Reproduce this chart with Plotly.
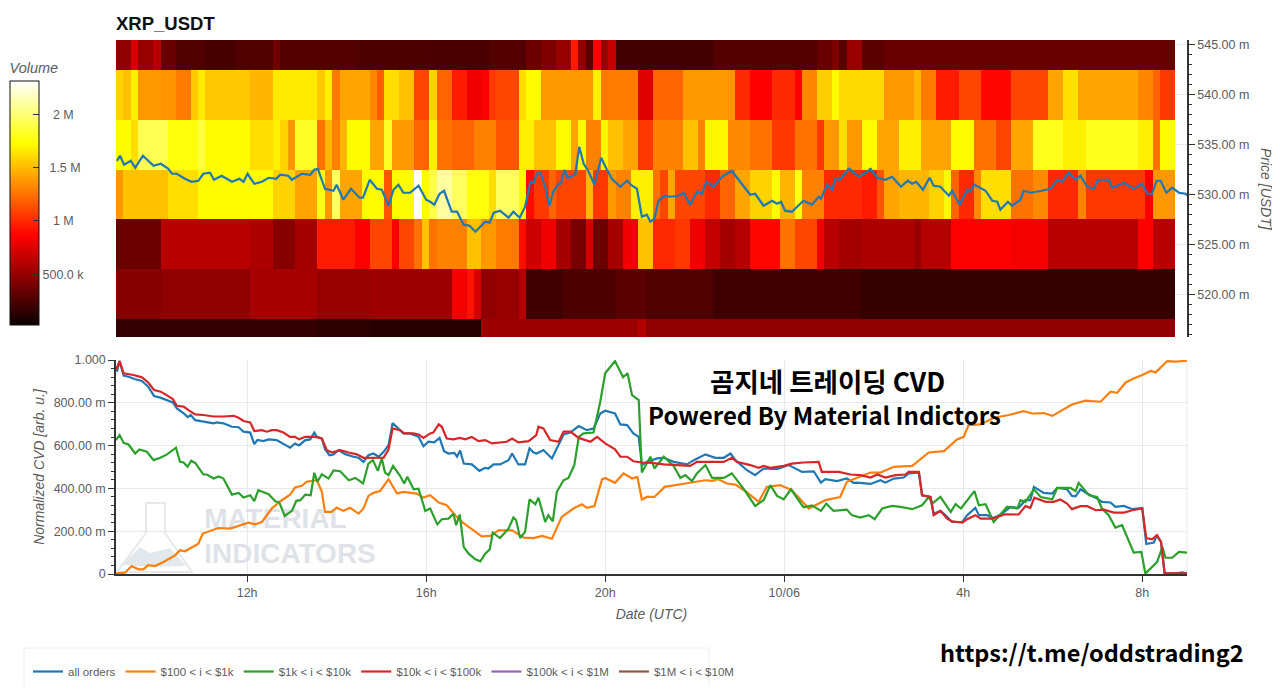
import pandas as pd
import plotly.graph_objects as go

# the page body adds an 8 px margin on each side, so the figure is shrunk and coordinates are shifted
W, H = 1272, 678
BODY = 8
BASE = pd.Timestamp("2020-10-05")

def when(hours):
    return [BASE + pd.to_timedelta(h, "h") for h in hours]

def px(x):
    return (x - BODY) / W

def py(y):
    return 1 - (y - BODY) / H

# ---- data -----------------------------------------------------------------
PAIR = "XRP_USDT"
PRICE_LEVELS = [515, 520, 525, 530, 535, 540, 545]
CELL_HOURS = 1 / 6
HEAT_START = 9.07
N_CELLS = 142

# runs of (last cell index, volume in millions)
ROW_545 = [(2,.48),(3,.72),(5,.5),(6,.62),(8,.34),(12,.26),(16,.23),(21,.26),(22,.38),(32,.27),(42,.25),(50,.24),(55,.27),(57,.35),(59,.42),(61,.5),(62,.95),(63,.48),(64,.3),(65,.85),(66,.5),(67,.65),(80,.22),(94,.28),(96,.34),(97,.42),(98,.3),(100,.5),(103,.3),(142,.34)]
ROW_540 = [(1,1.58),(2,1.52),(3,1.68),(6,1.38),(8,1.36),(10,1.28),(11,1.55),(12,1.66),(18,1.54),(21,1.48),(27,1.66),(28,1.55),(29,1.68),(30,1.28),(34,1.42),(35,1.32),(36,1.18),(38,1.62),(40,1.52),(42,1.1),(43,1.58),(45,1.2),(47,.95),(49,.8),(50,.85),(51,1.05),(54,1.1),(55,1.62),(57,1.72),(64,1.38),(65,1.68),(70,1.28),(72,.75),(76,1.2),(83,1.38),(85,1.0),(88,.86),(91,1.0),(92,.86),(94,1.32),(96,1.56),(97,1.72),(103,1.6),(107,1.38),(108,1.48),(110,1.28),(113,.95),(116,1.1),(120,.88),(125,1.1),(127,1.42),(129,1.62),(137,1.42),(139,1.32),(140,1.2),(142,1.05)]
ROW_535 = [(2,1.72),(3,1.62),(7,1.92),(11,1.76),(12,1.88),(18,1.72),(21,1.62),(22,1.68),(23,1.58),(24,1.38),(27,1.82),(28,1.25),(29,1.48),(30,1.3),(31,1.48),(34,1.72),(36,1.42),(37,1.82),(40,1.38),(42,1.2),(43,1.68),(45,1.25),(48,1.2),(51,1.3),(54,1.15),(56,1.68),(59,1.52),(61,1.72),(62,1.42),(63,1.72),(65,1.3),(66,1.7),(68,1.52),(70,1.42),(72,1.05),(76,1.3),(78,1.52),(79,1.3),(82,1.7),(85,1.33),(88,1.25),(91,1.05),(94,1.25),(95,1.05),(97,1.38),(98,1.62),(100,1.38),(102,1.72),(105,1.42),(108,1.68),(112,1.42),(115,1.72),(118,1.25),(120,1.1),(123,1.42),(127,1.8),(130,1.68),(137,1.8),(139,1.68),(140,1.25),(142,1.72)]
ROW_530 = [(1,1.38),(7,1.52),(11,1.62),(21,1.72),(24,1.58),(27,1.42),(28,1.78),(29,1.38),(30,1.95),(33,1.42),(36,1.72),(37,1.15),(40,1.72),(41,2.3),(42,1.72),(43,1.9),(45,2.1),(47,1.95),(50,1.76),(51,1.62),(54,1.95),(55,1.72),(56,.9),(58,1.05),(59,1.2),(63,1.1),(64,1.48),(66,1.05),(67,1.38),(69,1.3),(72,1.68),(73,1.25),(74,1.1),(75,1.42),(79,1.1),(81,1.0),(83,1.2),(85,1.42),(88,1.58),(89,1.72),(91,1.48),(92,1.78),(95,1.3),(100,1.0),(102,.95),(103,1.15),(105,1.42),(109,1.48),(111,1.58),(112,1.72),(113,1.2),(115,1.0),(116,1.33),(120,1.62),(123,1.25),(125,1.33),(129,1.0),(130,1.3),(138,1.05),(139,.85),(142,1.38)]
ROW_525 = [(6,.35),(11,.62),(18,.62),(21,.58),(24,.45),(27,.55),(32,.95),(34,.85),(37,1.1),(38,.85),(40,1.1),(41,1.25),(42,1.52),(43,1.25),(47,1.3),(49,1.52),(51,1.38),(54,1.28),(55,.9),(57,.68),(59,.8),(61,.55),(63,.4),(64,.72),(66,.35),(68,.55),(70,.8),(72,1.52),(75,1.0),(77,1.05),(79,.8),(81,.65),(83,.55),(85,.6),(89,.88),(91,1.25),(94,1.1),(95,.8),(97,.62),(100,.55),(107,.58),(108,.5),(112,.6),(120,.85),(125,.82),(137,.62),(139,.85),(142,.62)]
ROW_520 = [(6,.45),(18,.48),(27,.56),(34,.5),(42,.52),(45,.52),(47,.82),(48,.92),(49,.72),(51,.48),(54,.5),(55,.6),(60,.2),(67,.25),(71,.3),(80,.26),(100,.2),(142,.17)]
ROW_515 = [(27,.16),(34,.14),(49,.12),(70,.52),(71,.6),(142,.48)]

HOURS_ALL = [9.09,9.15,9.24,9.35,9.50,9.65,9.79,9.92,10.06,10.20,10.34,10.43,10.50,10.59,10.67,10.74,10.84,11.02,11.25,11.32,11.47,11.66,11.81,11.92,12.07,12.16,12.23,12.36,12.48,12.66,12.81,12.96,13.07,13.16,13.30,13.41,13.50,13.56,13.67,13.74,13.84,13.93,14.04,14.19,14.38,14.49,14.60,14.71,14.82,14.94,15.05,15.16,15.25,15.38,15.49,15.64,15.83,15.94,16.05,16.18,16.30,16.40,16.50,16.63,16.69,16.76,16.84,17.02,17.19,17.32,17.39,17.51,17.65,17.84,17.92,18.06,18.21,18.31,18.40,18.47,18.62,18.81,18.96,19.07,19.22,19.41,19.59,19.74,19.89,20.00,20.22,20.34,20.49,20.63,20.75,20.82,20.93,21.16,21.31,21.53,21.83,21.98,22.24,22.46,22.65,22.80,22.91,23.17,23.35,23.54,23.84,24.10,24.40,24.66,24.82,24.92,25.18,25.40,25.55,25.63,25.93,26.15,26.26,26.45,26.67,26.78,27.01,27.08,27.27,27.34,27.49,27.60,27.75,27.98,28.09,28.27,28.35,28.53,28.68,28.87,29.06,29.24,29.39,29.50,29.58,29.80,29.99,30.10,30.32,30.43,30.51,30.62,30.77,30.99,31.10,31.29,31.40,31.59,31.78,32.00,32.09,32.26,32.32,32.42,32.50,32.78,32.89,33.00]
CVD_ALL = [.945,.995,.927,.922,.910,.902,.875,.832,.824,.813,.802,.774,.763,.750,.733,.743,.719,.711,.704,.708,.704,.688,.686,.665,.661,.607,.626,.621,.629,.626,.607,.590,.610,.601,.626,.629,.661,.641,.633,.583,.555,.559,.579,.560,.548,.543,.524,.555,.563,.548,.571,.602,.705,.680,.657,.657,.641,.597,.618,.615,.636,.574,.563,.566,.548,.577,.516,.512,.482,.496,.493,.512,.512,.532,.563,.512,.512,.587,.568,.563,.579,.540,.602,.652,.661,.691,.672,.680,.750,.763,.750,.699,.696,.657,.641,.509,.524,.540,.543,.524,.512,.532,.559,.543,.543,.563,.532,.485,.462,.493,.490,.509,.477,.480,.427,.443,.434,.446,.426,.427,.421,.438,.427,.446,.451,.470,.474,.368,.360,.282,.295,.275,.243,.243,.275,.309,.275,.275,.262,.282,.314,.309,.345,.345,.407,.379,.376,.402,.396,.365,.363,.396,.376,.353,.337,.334,.314,.318,.303,.309,.140,.147,.181,.150,.003,.003,.008,.003]

HOURS_100 = [9.07,9.27,9.42,9.57,9.68,9.79,9.94,10.13,10.39,10.50,10.61,10.91,11.01,11.21,11.36,11.62,11.84,12.03,12.18,12.33,12.55,12.74,12.96,13.07,13.22,13.33,13.56,13.67,13.74,13.89,14.00,14.15,14.30,14.49,14.60,14.71,14.82,14.97,15.16,15.35,15.49,15.79,15.94,16.09,16.28,16.46,16.65,16.80,16.98,17.24,17.43,17.62,17.92,18.18,18.40,18.59,18.81,19.03,19.29,19.48,19.59,19.76,19.93,20.00,20.22,20.41,20.60,20.72,20.82,20.93,21.10,21.33,21.79,22.24,22.39,22.53,22.72,22.91,23.13,23.43,23.61,23.91,24.17,24.55,24.92,25.25,25.40,25.48,25.70,25.93,26.15,26.45,26.86,27.23,27.57,27.86,28.01,28.12,28.39,28.68,29.02,29.35,29.54,29.80,29.99,30.17,30.43,30.73,31.07,31.29,31.44,31.63,31.81,32.00,32.19,32.30,32.56,32.75,33.00]
CVD_100 = [.003,.006,.037,.022,.022,.041,.037,.056,.087,.111,.106,.142,.189,.204,.215,.212,.228,.240,.232,.243,.306,.340,.371,.404,.412,.431,.438,.384,.290,.290,.310,.295,.309,.282,.306,.365,.379,.388,.443,.376,.384,.376,.357,.368,.334,.321,.275,.243,.215,.176,.178,.204,.204,.170,.168,.178,.165,.267,.306,.326,.309,.317,.443,.449,.426,.470,.446,.454,.348,.360,.360,.407,.423,.438,.435,.443,.423,.418,.388,.337,.407,.415,.392,.306,.345,.360,.431,.438,.457,.474,.474,.501,.505,.568,.574,.629,.641,.696,.699,.730,.743,.761,.750,.752,.739,.761,.792,.810,.805,.852,.847,.895,.914,.930,.949,.942,.995,.992,.997]

HOURS_1K = [9.07,9.15,9.24,9.35,9.50,9.59,9.76,9.91,10.06,10.21,10.41,10.50,10.58,10.67,10.75,10.84,11.02,11.10,11.25,11.36,11.47,11.66,11.81,11.92,12.07,12.16,12.25,12.48,12.63,12.72,12.84,13.00,13.10,13.19,13.30,13.42,13.50,13.57,13.67,13.82,13.93,14.08,14.27,14.42,14.59,14.71,14.81,14.92,15.01,15.08,15.16,15.26,15.42,15.51,15.58,15.72,15.83,15.98,16.09,16.25,16.35,16.50,16.61,16.67,16.75,16.84,16.95,17.10,17.21,17.32,17.42,17.49,17.65,17.84,17.95,18.01,18.10,18.21,18.31,18.44,18.51,18.66,18.73,18.83,18.92,19.07,19.18,19.31,19.41,19.52,19.74,19.89,20.00,20.22,20.40,20.50,20.60,20.75,20.82,21.01,21.10,21.31,21.53,21.68,21.79,21.94,22.05,22.24,22.39,22.65,22.83,23.09,23.35,23.54,23.69,23.84,23.99,24.15,24.43,24.62,24.82,24.94,25.10,25.40,25.51,25.70,25.89,26.02,26.19,26.41,26.60,26.86,27.08,27.23,27.31,27.49,27.72,27.83,27.95,28.25,28.35,28.50,28.68,28.87,28.98,29.21,29.28,29.39,29.58,29.73,29.99,30.10,30.40,30.51,30.58,30.81,30.99,31.10,31.25,31.40,31.55,31.81,31.98,32.07,32.33,32.45,32.52,32.67,32.82,33.00]
CVD_1K = [.626,.649,.613,.605,.563,.582,.571,.532,.543,.559,.590,.524,.521,.501,.529,.519,.465,.465,.446,.456,.446,.371,.379,.357,.368,.340,.392,.373,.340,.334,.271,.295,.342,.345,.371,.368,.473,.431,.466,.446,.484,.480,.438,.449,.423,.516,.532,.482,.540,.474,.462,.505,.458,.423,.454,.396,.399,.295,.306,.232,.256,.259,.282,.228,.278,.126,.095,.069,.059,.095,.115,.193,.168,.212,.264,.251,.168,.197,.349,.326,.356,.243,.275,.246,.384,.438,.449,.509,.641,.657,.661,.805,.938,.995,.919,.938,.836,.813,.474,.548,.493,.548,.505,.449,.462,.434,.470,.509,.449,.449,.470,.399,.318,.345,.415,.365,.349,.396,.312,.321,.295,.329,.295,.301,.275,.264,.275,.256,.306,.318,.314,.303,.321,.360,.329,.360,.290,.326,.306,.387,.321,.326,.243,.290,.314,.306,.345,.337,.396,.360,.349,.402,.402,.387,.426,.368,.360,.306,.275,.217,.228,.100,.103,.002,.056,.126,.076,.076,.103,.100]

HOURS_10K = [9.07,9.15,9.24,9.46,9.65,9.79,9.92,10.07,10.20,10.34,10.43,10.58,10.69,10.84,11.02,11.25,11.47,11.70,11.81,11.92,12.07,12.16,12.33,12.44,12.55,12.66,12.81,12.96,13.07,13.16,13.30,13.52,13.67,13.78,13.89,14.08,14.27,14.45,14.60,14.75,15.05,15.16,15.25,15.42,15.51,15.72,15.83,15.94,16.09,16.16,16.28,16.35,16.46,16.61,16.75,16.87,17.02,17.17,17.32,17.47,17.65,17.80,17.92,18.06,18.29,18.46,18.51,18.62,18.77,18.96,19.07,19.22,19.41,19.67,19.82,20.00,20.22,20.34,20.49,20.63,20.82,21.04,21.31,21.90,22.05,22.65,22.83,22.94,23.24,23.43,23.54,23.69,23.99,24.17,24.43,24.77,24.84,25.22,25.48,25.70,25.93,26.08,26.26,26.49,26.71,26.78,27.01,27.08,27.27,27.34,27.49,27.64,27.75,27.98,28.09,28.27,28.39,28.65,28.94,29.24,29.39,29.50,29.59,29.84,30.02,30.17,30.32,30.43,30.62,30.77,30.96,31.14,31.37,31.59,31.78,32.00,32.09,32.22,32.33,32.42,32.50,33.00]
CVD_10K = [.953,.995,.938,.930,.919,.895,.860,.852,.836,.817,.786,.782,.766,.746,.743,.736,.736,.739,.730,.715,.708,.668,.672,.665,.672,.672,.661,.641,.641,.629,.641,.641,.633,.579,.568,.579,.568,.559,.543,.544,.544,.583,.680,.672,.657,.657,.652,.636,.657,.661,.699,.688,.633,.629,.636,.629,.640,.621,.626,.610,.613,.618,.633,.615,.621,.649,.688,.680,.626,.618,.665,.665,.636,.618,.641,.610,.583,.548,.548,.527,.521,.519,.512,.505,.524,.524,.543,.524,.509,.496,.505,.496,.505,.516,.521,.524,.477,.477,.465,.462,.451,.465,.451,.462,.465,.477,.477,.368,.360,.275,.295,.259,.246,.240,.256,.275,.259,.259,.279,.278,.317,.309,.357,.337,.337,.348,.329,.303,.317,.317,.298,.301,.287,.287,.298,.306,.168,.162,.181,.150,.003,.003]

CVD_100K = [None, None]
CVD_1M = [None, None]
HOURS_EMPTY = [9.07, 33.0]

HOURS_PRICE = [9.09,9.16,9.25,9.40,9.50,9.67,9.91,10.07,10.24,10.32,10.43,10.61,10.76,10.91,11.02,11.17,11.26,11.43,11.66,11.83,11.92,12.01,12.16,12.33,12.48,12.65,12.74,12.92,13.00,13.22,13.41,13.50,13.58,13.74,13.93,14.00,14.15,14.32,14.51,14.59,14.74,14.90,15.01,15.16,15.27,15.38,15.49,15.64,15.83,16.00,16.09,16.18,16.30,16.40,16.57,16.69,16.84,16.97,17.10,17.32,17.42,17.51,17.65,17.84,17.95,18.09,18.21,18.33,18.40,18.47,18.55,18.66,18.75,18.85,18.96,19.01,19.09,19.16,19.33,19.42,19.52,19.63,19.76,19.91,20.04,20.15,20.34,20.49,20.60,20.71,20.82,20.93,21.01,21.10,21.19,21.33,21.45,21.64,21.75,21.90,22.05,22.16,22.26,22.42,22.61,22.83,22.98,23.24,23.35,23.54,23.73,23.84,23.93,24.02,24.17,24.43,24.62,24.77,24.82,24.96,25.07,25.14,25.24,25.44,25.48,25.67,25.78,25.93,26.08,26.26,26.41,26.61,26.76,26.86,26.95,27.10,27.25,27.34,27.49,27.68,27.75,27.92,28.09,28.15,28.25,28.50,28.65,28.76,28.83,29.00,29.09,29.28,29.35,29.50,29.76,29.95,30.10,30.21,30.36,30.51,30.62,30.77,30.92,31.01,31.25,31.33,31.59,31.81,32.00,32.11,32.22,32.32,32.41,32.54,32.67,32.82,32.97,33.00]
PRICE = [533.4,533.9,533.0,533.4,532.7,533.9,532.9,533.1,532.6,532.1,532.1,531.6,531.3,531.4,532.1,532.2,531.5,531.9,531.3,531.6,531.3,532.1,531.1,531.3,531.7,531.6,532.0,531.9,531.5,532.1,532.0,532.5,532.6,530.6,530.4,531.0,529.5,530.6,529.7,529.7,531.5,530.6,530.5,528.9,530.5,531.0,530.2,530.2,530.9,529.5,529.3,529.0,530.1,530.4,528.3,528.3,527.0,526.9,526.3,527.3,527.2,528.2,528.4,527.7,528.3,527.7,528.8,531.3,531.2,532.1,532.2,530.8,528.9,530.4,531.1,531.1,532.5,531.7,532.0,534.8,533.1,532.3,531.0,533.7,532.5,531.6,530.8,531.4,530.9,530.6,527.8,528.0,527.3,527.6,529.4,529.9,529.8,529.9,530.2,529.0,530.3,530.1,531.3,530.8,531.8,532.4,531.5,530.0,530.1,528.9,529.4,529.1,529.3,528.4,528.3,529.4,529.0,529.8,529.6,531.0,530.5,531.6,531.5,532.6,532.5,531.8,532.1,532.6,531.7,531.5,531.8,530.8,531.4,531.1,531.3,530.5,531.7,530.9,530.8,529.9,530.4,529.0,530.5,530.3,531.0,530.4,529.4,529.3,528.5,529.3,528.9,529.5,530.4,530.2,530.4,530.6,531.5,531.3,532.2,531.5,531.9,530.8,530.6,531.5,531.5,530.7,531.2,530.6,531.1,530.1,530.1,531.4,531.4,530.2,530.7,530.2,530.1,529.9]

TIME_TICKS_H = [12, 16, 20, 24, 28, 32]
TIME_LABELS = ["12h", "16h", "20h", "10/06", "4h", "8h"]
CVD_TICKS = [0, .2, .4, .6, .8, 1]
CVD_LABELS = ["0", "200.00 m", "400.00 m", "600.00 m", "800.00 m", "1.000"]
VOLUME_TICKS = [500e3, 1e6, 1.5e6, 2e6]
VOLUME_LABELS = ["500.0 k", "\u00a0\u00a0\u00a01 M", "\u00a0\u00a01.5 M", "\u00a0\u00a0\u00a02 M"]
WATERMARK = ["MATERIAL", "INDICATORS"]
WATERMARK_H = [11.04, 11.04]
WATERMARK_V = [.247, .083]

# ---- styling --------------------------------------------------------------
FONT = "Liberation Sans"
GREY = "#5c5c5c"
AXIS = "#333333"
GRID = "#e9e9e9"
TICK_FONT = dict(family=FONT, size=12.5, color=GREY)
TITLE_FONT = dict(family=FONT, size=14, color=GREY, style="italic")
HOT = [[0, "#0a0000"], [.365, "#ff0000"], [.746, "#ffff00"], [1, "#ffffff"]]
KR = "Noto Sans CJK KR"

def expand(runs):
    cells, pos = [], 0
    for end, value in runs:
        cells += [value * 1e6] * (end - pos)
        pos = max(pos, end)
    return cells

z_rows = [expand(r) for r in (ROW_515, ROW_520, ROW_525, ROW_530, ROW_535, ROW_540, ROW_545)]
heat_hours = [HEAT_START + (i + .5) * CELL_HOURS for i in range(N_CELLS)]

fig = go.Figure()
fig.add_trace(go.Heatmap(
    x=when(heat_hours), y=PRICE_LEVELS, z=z_rows, xaxis="x", yaxis="y",
    colorscale=HOT, zmin=23e3, zmax=2.313e6, showlegend=False, hoverongaps=False,
    colorbar=dict(
        x=px(10), xanchor="left", xref="paper", y=py(325), yanchor="bottom", yref="paper",
        lenmode="pixels", len=265, thicknessmode="pixels", thickness=29,
        xpad=0, ypad=0, outlinecolor="#111111", outlinewidth=1, borderwidth=0,
        ticks="inside", ticklen=6, tickcolor="#333333", tickmode="array",
        tickvals=VOLUME_TICKS, ticktext=VOLUME_LABELS, tickfont=TICK_FONT,
        title=dict(text="Volume", side="top", font=dict(family=FONT, size=14.5, color=GREY, style="italic")),
    ),
))
fig.add_trace(go.Scatter(
    x=when(HOURS_PRICE), y=PRICE, xaxis="x", yaxis="y", mode="lines",
    line=dict(color="#1f77b4", width=2.2), showlegend=False,
))
fig.add_trace(go.Scatter(
    x=when(WATERMARK_H), y=WATERMARK_V, text=WATERMARK, mode="text", xaxis="x2", yaxis="y2",
    textposition="middle right", showlegend=False, hoverinfo="skip",
    textfont=dict(family=FONT, size=28, color="#dfe3e7", weight="bold"),
))
SERIES = [
    ("all orders", HOURS_ALL, CVD_ALL, "#1f77b4"),
    ("$100 < i < $1k", HOURS_100, CVD_100, "#ff7f0e"),
    ("$1k < i < $10k", HOURS_1K, CVD_1K, "#2ca02c"),
    ("$10k < i < $100k", HOURS_10K, CVD_10K, "#d62728"),
    ("$100k < i < $1M", HOURS_EMPTY, CVD_100K, "#9467bd"),
    ("$1M < i < $10M", HOURS_EMPTY, CVD_1M, "#8c564b"),
]
for name, hours, vals, color in SERIES:
    fig.add_trace(go.Scatter(
        x=when(hours), y=vals, name=name, mode="lines", xaxis="x2", yaxis="y2",
        line=dict(color=color, width=2.2), connectgaps=False,
    ))

x_range = [when([9.07])[0], when([33.0])[0]]
flask = "M{} L{} L{} L{} L{} L{} Z".format(*[f"{px(a)},{py(b)}" for a, b in
        [(146, 503), (165, 503), (165, 533), (192, 572), (117, 572), (146, 533)]])
peak = "M{} L{} L{} L{} L{} L{} Z".format(*[f"{px(a)},{py(b)}" for a, b in
        [(122, 565), (140, 547), (150, 553), (170, 548), (186, 566), (152, 567)]])

fig.update_layout(
    width=W, height=H, autosize=False, paper_bgcolor="white", plot_bgcolor="white",
    margin=dict(l=0, r=0, t=0, b=0, autoexpand=False),
    font=dict(family=FONT, size=12, color=GREY),
    title=dict(text=f"<b>{PAIR}</b>", x=px(116), xref="paper", xanchor="left",
               y=py(24), yref="paper", yanchor="middle",
               font=dict(family=FONT, size=18.5, color="#111111")),
    xaxis=dict(domain=[px(116), px(1187)], range=x_range, type="date", anchor="y",
               showticklabels=False, ticks="", showgrid=False, showline=False, zeroline=False),
    yaxis=dict(domain=[py(337), py(40)], range=[515.75, 545.5], anchor="x", side="right",
               tickmode="linear", tick0=515, dtick=5, tickformat=".2f", ticksuffix=" m",
               ticks="outside", ticklen=6, tickcolor=AXIS, tickfont=TICK_FONT,
               showline=True, linecolor=AXIS, linewidth=1.5, showgrid=True, gridcolor=GRID,
               zeroline=False,
               minor=dict(ticks="outside", ticklen=3, dtick=1, tick0=515, tickcolor=AXIS, showgrid=False)),
    xaxis2=dict(domain=[px(116), px(1187)], range=x_range, type="date", anchor="y2",
                tickmode="array", tickvals=when(TIME_TICKS_H), ticktext=TIME_LABELS,
                ticks="outside", ticklen=6, tickcolor=AXIS, tickfont=TICK_FONT,
                showline=True, linecolor=AXIS, linewidth=1.5, showgrid=True, gridcolor=GRID,
                zeroline=False, title=dict(text="Date (UTC)", font=TITLE_FONT, standoff=10)),
    yaxis2=dict(domain=[py(574), py(360)], range=[0, 1], anchor="x2",
                tickmode="array", tickvals=CVD_TICKS, ticktext=CVD_LABELS,
                ticks="outside", ticklen=6, tickcolor=AXIS, tickfont=TICK_FONT,
                showline=True, linecolor=AXIS, linewidth=1.5, showgrid=True, gridcolor=GRID,
                zeroline=False,
                minor=dict(ticks="outside", ticklen=3, tickmode="array",
                           tickvals=[i * .04 for i in range(26)], tickcolor=AXIS, showgrid=False),
                title=dict(text="Normalized CVD [arb. u.]", font=TITLE_FONT, standoff=6)),
    legend=dict(orientation="h", x=px(28), xanchor="left", y=py(657), yanchor="top",
                bgcolor="rgba(0,0,0,0)", borderwidth=0, font=dict(family=FONT, size=11.5, color=GREY),
                tracegroupgap=0),
    shapes=[
        dict(type="rect", xref="paper", yref="paper", x0=px(24), x1=px(709), y0=py(648), y1=py(700),
             line=dict(color="#eeeeee", width=1), fillcolor="white", layer="below"),
        dict(type="line", xref="x2 domain", yref="y2 domain", x0=1, x1=1, y0=0, y1=1,
             line=dict(color=GRID, width=1), layer="below"),
        dict(type="path", xref="paper", yref="paper", path=flask,
             line=dict(color="#e6e9ec", width=2), fillcolor="rgba(0,0,0,0)", layer="below"),
        dict(type="path", xref="paper", yref="paper", path=peak,
             line=dict(width=0), fillcolor="#e3e8ec", layer="below"),
    ],
    annotations=[
        dict(text="Price [USDT]", textangle=90, xref="paper", yref="paper", x=px(1266), y=py(189),
             xanchor="center", yanchor="middle", showarrow=False, font=TITLE_FONT),
        dict(text="<b>곰지네 트레이딩 CVD</b>", xref="paper", yref="paper", x=px(827), y=py(380),
             xanchor="center", yanchor="middle", showarrow=False, font=dict(family=KR, size=26.5, color="#000")),
        dict(text="<b>Powered By Material Indictors</b>", xref="paper", yref="paper", x=px(824), y=py(414),
             xanchor="center", yanchor="middle", showarrow=False, font=dict(family=KR, size=24, color="#000")),
        dict(text="<b>https://t.me/oddstrading2</b>", xref="paper", yref="paper", x=px(938), y=py(652),
             xanchor="left", yanchor="middle", showarrow=False, font=dict(family=KR, size=23.5, color="#000")),
    ],
)

fig.write_html("out.html")
